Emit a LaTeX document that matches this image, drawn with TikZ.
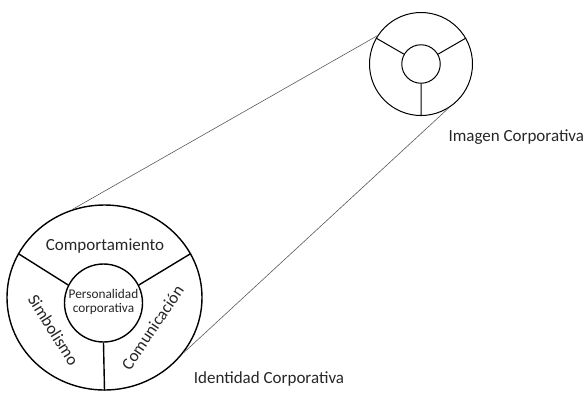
\documentclass[tikz,border=0pt]{standalone}
\usepackage{fontspec}
\setmainfont{Carlito}
\usetikzlibrary{shapes.geometric,positioning}

\begin{document}
\begin{tikzpicture}[x=1pt,y=-1pt,
	ring/.style={draw,circle,inner sep=0pt},
	bigring/.style={ring,line width=1.4pt},
	smallring/.style={ring,line width=1pt},
	beam/.style={draw=black!65,line width=0.6pt},
	lbl/.style={font=\fontsize{17}{20}\selectfont,text=black!85,inner sep=0pt},
	smalllbl/.style={font=\fontsize{13.3}{14}\selectfont,text=black!85,align=center,inner sep=0pt}]
		\useasboundingbox (0,0) rectangle (583,392);
		% identidad
		\node[bigring,ellipse,minimum width=195pt,minimum height=185pt] (id_o) at (104.5,297.5) {};
		\node[bigring,minimum size=78pt] (id_i) at (103.5,303) {};
		\path[draw,line width=1.4pt]
			(id_i.153) -- (id_o.153)
			(id_i.27) -- (id_o.27)
			(id_i.south) -- (id_o.south);
		\node[smalllbl] (id_core) at (103.5,302) {Personalidad\\corporativa};
		\node[lbl,anchor=base] (id_top) at (105,250) {Comportamiento};
		\node[lbl,rotate=-58] (id_left) at (53.5,330) {Simbolismo};
		\node[lbl,rotate=56] (id_right) at (152.5,327.5) {Comunicación};
		\node[lbl,anchor=base] (id_name) at (269,383.3) {Identidad Corporativa};
		% imagen
		\node[smallring,minimum size=103pt] (im_o) at (421,64) {};
		\node[smallring,minimum size=38.5pt] (im_i) at (421,64) {};
		\path[draw,line width=1pt]
			(im_i.150) -- (im_o.150)
			(im_i.30) -- (im_o.30)
			(im_i.south) -- (im_o.south);
		\node[lbl,anchor=base west] (im_name) at (448.3,141.7) {Imagen Corporativa};
		% beams
		\path[beam]
			(id_o.110) -- (im_o.147)
			(id_o.-35) -- (im_o.-58);
	\end{tikzpicture}
\end{document}
